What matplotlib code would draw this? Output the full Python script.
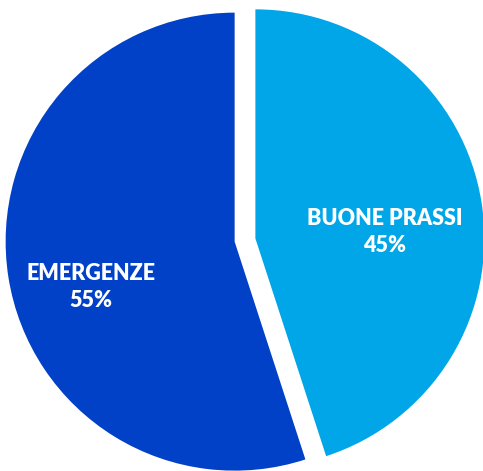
import matplotlib
matplotlib.use("Agg")
import matplotlib.pyplot as plt

categories = ["BUONE PRASSI", "EMERGENZE"]
values = [45, 55]
colors = ["#00A6E8", "#0041C8"]

fig = plt.figure(figsize=(4.83, 4.71), dpi=100)
ax = fig.add_axes([0, 0, 1, 1])

# explode is in data units here (pixels), not a fraction of the radius
wedges, _ = ax.pie(values, colors=colors, startangle=90, counterclock=False,
                   radius=229, center=(245, 231), explode=[10.5, 10.5],
                   frame=True)
ax.set_xlim(0, 483)
ax.set_ylim(0, 471)
ax.set_aspect("equal")
ax.axis("off")

label_pos = [(385, 239), (91, 184)]
for name, v, (x, y) in zip(categories, values, label_pos):
    ax.text(x, y, f"{name}\n{v}%", ha="center", va="center", color="white",
            fontsize=15.5, fontweight="heavy", family="Lato", linespacing=1.3)

fig.savefig("out.png", dpi=100)
